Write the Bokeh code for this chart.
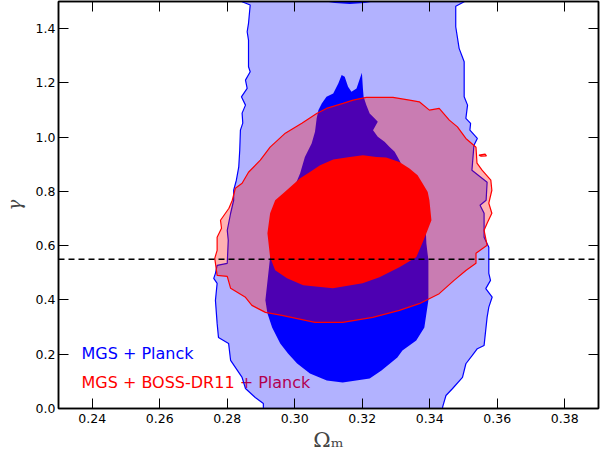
from bokeh.plotting import figure
from bokeh.models import Range1d, FixedTicker, LinearAxis, Span, Label
from bokeh.embed import file_html
from bokeh.resources import INLINE

# ---- data ----
x_ticks = [0.24, 0.26, 0.28, 0.30, 0.32, 0.34, 0.36, 0.38]
x_tick_labels = ["0.24", "0.26", "0.28", "0.30", "0.32", "0.34", "0.36", "0.38"]
y_ticks = [0.0, 0.2, 0.4, 0.6, 0.8, 1.0, 1.2, 1.4]
y_tick_labels = ["0.0", "0.2", "0.4", "0.6", "0.8", "1.0", "1.2", "1.4"]

gamma_ref = 0.55

# MGS + Planck, 2-sigma contour (outer, light blue)
mgs_2s_x = [0.2844, 0.2844, 0.2868, 0.2863, 0.2859, 0.2863, 0.2863, 0.2868, 0.2854, 0.2859,
            0.2842, 0.2854, 0.2844, 0.2846, 0.2839, 0.2837, 0.2834, 0.2827, 0.2819, 0.2819,
            0.2810, 0.2800, 0.2803, 0.2800, 0.2770, 0.2765, 0.2760, 0.2770, 0.2765, 0.2770,
            0.2774, 0.2804, 0.2810, 0.2844, 0.2854, 0.2883, 0.2907, 0.2907,
            0.3438, 0.3438, 0.3448, 0.3467, 0.3497, 0.3507, 0.3526, 0.3541, 0.3561, 0.3570,
            0.3575, 0.3585, 0.3566, 0.3580, 0.3575, 0.3575, 0.3561, 0.3561, 0.3549, 0.3567,
            0.3570, 0.3525, 0.3531, 0.3541, 0.3519, 0.3521, 0.3507, 0.3512, 0.3502, 0.3502,
            0.3487, 0.3477, 0.3477, 0.3502, 0.3502]
mgs_2s_y = [1.5200, 1.4993, 1.4871, 1.4196, 1.3886, 1.3579, 1.2594, 1.2410, 1.2103, 1.1797,
            1.1487, 1.1181, 1.0886, 1.0517, 1.0258, 0.9520, 0.8893, 0.8413, 0.8044, 0.7675,
            0.7196, 0.6568, 0.6199, 0.5351, 0.5277, 0.4982, 0.4797, 0.4613, 0.3985, 0.3137,
            0.2620, 0.2399, 0.1771, 0.1144, 0.0738, 0.0406, 0.0185, -0.0500,
            -0.0500, 0.0048, 0.0480, 0.0727, 0.1144, 0.1649, 0.1956, 0.2203, 0.2325, 0.3369,
            0.3738, 0.4107, 0.4417, 0.4723, 0.4982, 0.5941, 0.6310, 0.7196, 0.7491, 0.7675,
            0.8339, 0.8782, 0.9705, 0.9952, 1.0258, 1.0506, 1.0690, 1.1181, 1.1487, 1.2779,
            1.3273, 1.4070, 1.4823, 1.4993, 1.5200]

# MGS + Planck, 1-sigma contour (dark blue)
mgs_1s_x = [0.3094, 0.3114, 0.3129, 0.3139, 0.3148, 0.3158, 0.3168, 0.3183, 0.3193, 0.3199,
            0.3202, 0.3204, 0.3212, 0.3222, 0.3237, 0.3246, 0.3232, 0.3246, 0.3266, 0.3281,
            0.3296, 0.3310, 0.3340, 0.3369, 0.3387, 0.3390, 0.3396, 0.3396, 0.3384, 0.3360,
            0.3319, 0.3304, 0.3257, 0.3222, 0.3142, 0.3095, 0.3045, 0.3007, 0.2980, 0.2957,
            0.2933, 0.2919, 0.2913, 0.2927, 0.2936, 0.2951, 0.2972, 0.2995, 0.3016, 0.3030,
            0.3040, 0.3050, 0.3060, 0.3065, 0.3070, 0.3080]
mgs_1s_y = [1.1487, 1.1613, 1.1982, 1.2288, 1.2225, 1.1856, 1.1672, 1.1797, 1.2166, 1.2373,
            1.1797, 1.1487, 1.1181, 1.0875, 1.0690, 1.0565, 1.0258, 1.0011, 0.9827, 0.9642,
            0.9458, 0.9151, 0.8413, 0.7675, 0.6937, 0.6089, 0.5461, 0.3985, 0.2989, 0.2509,
            0.2140, 0.1882, 0.1402, 0.1107, 0.0959, 0.1033, 0.1292, 0.1661, 0.2030, 0.2399,
            0.2989, 0.3506, 0.3985, 0.5572, 0.6199, 0.6568, 0.7306, 0.8044, 0.8672, 0.9273,
            0.9520, 0.9768, 1.0196, 1.0701, 1.0996, 1.1244]

# MGS + Planck, 1-sigma piece entering at the top edge
mgs_1s_top_x = [0.3083, 0.3083, 0.3119, 0.3163, 0.3207, 0.3243, 0.3243]
mgs_1s_top_y = [1.5200, 1.5015, 1.4945, 1.4908, 1.4945, 1.5015, 1.5200]

# MGS + BOSS-DR11 + Planck, 2-sigma contour (light red)
boss_2s_x = [0.2770, 0.2783, 0.2780, 0.2805, 0.2815, 0.2824, 0.2844, 0.2863, 0.2898, 0.2927,
             0.2972, 0.3021, 0.3065, 0.3094, 0.3143, 0.3173, 0.3212, 0.3291, 0.3340, 0.3369,
             0.3399, 0.3428, 0.3458, 0.3482, 0.3507, 0.3537, 0.3540, 0.3555, 0.3581, 0.3584,
             0.3575, 0.3584, 0.3570, 0.3561, 0.3570, 0.3537, 0.3537, 0.3508, 0.3472, 0.3428,
             0.3369, 0.3310, 0.3231, 0.3142, 0.3060, 0.2962, 0.2913, 0.2873, 0.2854, 0.2810,
             0.2800, 0.2770, 0.2763, 0.2770]
boss_2s_y = [0.6310, 0.6642, 0.6937, 0.7380, 0.7675, 0.8118, 0.8303, 0.8708, 0.9151, 0.9631,
             1.0148, 1.0517, 1.0875, 1.1059, 1.1244, 1.1365, 1.1465, 1.1465, 1.1365, 1.1303,
             1.0996, 1.1059, 1.0627, 1.0380, 0.9952, 0.9631, 0.9041, 0.8782, 0.8413, 0.8044,
             0.7565, 0.7196, 0.6827, 0.6568, 0.6015, 0.5720, 0.5351, 0.5092, 0.4723, 0.4232,
             0.3863, 0.3616, 0.3358, 0.3173, 0.3173, 0.3432, 0.3542, 0.3801, 0.4096, 0.4428,
             0.4871, 0.4908, 0.5535, 0.5830]

# small isolated 2-sigma island
boss_2s_island_x = [0.3546, 0.3564, 0.3568, 0.3552]
boss_2s_island_y = [0.9336, 0.9373, 0.9310, 0.9300]

# MGS + BOSS-DR11 + Planck, 1-sigma contour (solid red)
boss_1s_x = [0.3016, 0.3045, 0.3075, 0.3114, 0.3163, 0.3202, 0.3242, 0.3271, 0.3310, 0.3340,
             0.3364, 0.3379, 0.3394, 0.3399, 0.3405, 0.3390, 0.3378, 0.3360, 0.3310, 0.3251,
             0.3201, 0.3113, 0.3025, 0.2977, 0.2942, 0.2927, 0.2919, 0.2927, 0.2942, 0.2966]
boss_1s_y = [0.8487, 0.8720, 0.8967, 0.9177, 0.9273, 0.9336, 0.9273, 0.9251, 0.9089, 0.8845,
             0.8598, 0.8292, 0.7982, 0.7675, 0.6937, 0.6458, 0.6089, 0.5572, 0.5203, 0.4834,
             0.4613, 0.4428, 0.4539, 0.4797, 0.5092, 0.5572, 0.6458, 0.7196, 0.7675, 0.7934]

series_names = ["MGS + Planck", "MGS + BOSS-DR11 + Planck"]

# ---- figure ----
p = figure(width=601, height=454,
           x_range=Range1d(0.23, 0.39), y_range=Range1d(0.0, 1.5),
           output_backend="svg", toolbar_location=None,
           min_border_left=57, min_border_right=3, min_border_top=1, min_border_bottom=46)
p.background_fill_color = "white"
p.border_fill_color = "white"
p.grid.visible = False
p.outline_line_color = "black"
p.outline_line_width = 1.5

TICK_FONT = "DejaVu Sans"

def style_axis(ax, ticks, labels, show_labels=True):
    ax.ticker = FixedTicker(ticks=ticks)
    ax.major_tick_in = 10
    ax.major_tick_out = 0
    ax.minor_tick_in = 0
    ax.minor_tick_out = 0
    ax.major_tick_line_color = "black"
    ax.major_tick_line_width = 1
    ax.axis_line_color = "black"
    ax.axis_line_width = 1.5
    ax.major_label_text_font = TICK_FONT
    ax.major_label_text_color = "black"
    if show_labels:
        ax.major_label_overrides = {t: l for t, l in zip(ticks, labels)}
        ax.major_label_text_font_size = "12.5px"
    else:
        ax.major_label_overrides = {t: "" for t in ticks}
        ax.major_label_text_font_size = "1px"
        ax.major_label_standoff = 0

style_axis(p.xaxis[0], x_ticks, x_tick_labels)
p.xaxis[0].major_label_standoff = 5
p.xaxis[0].axis_label = "Ωₘ"
p.xaxis[0].axis_label_text_font = "DejaVu Serif"
p.xaxis[0].axis_label_text_font_style = "normal"
p.xaxis[0].axis_label_text_font_size = "21px"
p.xaxis[0].axis_label_standoff = 2

style_axis(p.yaxis[0], y_ticks, y_tick_labels)
p.yaxis[0].major_label_standoff = 3
p.yaxis[0].axis_label = "γ"
p.yaxis[0].axis_label_text_font = "DejaVu Serif"
p.yaxis[0].axis_label_text_font_style = "italic"
p.yaxis[0].axis_label_text_font_size = "18px"
p.yaxis[0].axis_label_standoff = 8

top_ax = LinearAxis()
style_axis(top_ax, x_ticks, x_tick_labels, show_labels=False)
p.add_layout(top_ax, "above")
right_ax = LinearAxis()
style_axis(right_ax, y_ticks, y_tick_labels, show_labels=False)
p.add_layout(right_ax, "right")

# legend texts (drawn underneath the contours, as in the reference)
p.add_layout(Label(x=0.2368, y=0.2027, text=series_names[0], text_color="#0000ff",
                   text_font=TICK_FONT, text_font_size="16px", text_baseline="middle",
                   level="underlay"))
p.add_layout(Label(x=0.2368, y=0.0958, text=series_names[1], text_color="#ff0000",
                   text_font=TICK_FONT, text_font_size="16px", text_baseline="middle",
                   level="underlay"))

# contours
p.patch(mgs_2s_x, mgs_2s_y, fill_color="blue", fill_alpha=0.3,
        line_color="blue", line_width=1.2)
p.patch(mgs_1s_x, mgs_1s_y, fill_color="blue", fill_alpha=1.0, line_color=None)
p.patch(mgs_1s_top_x, mgs_1s_top_y, fill_color="blue", fill_alpha=1.0, line_color=None)
p.patch(boss_2s_x, boss_2s_y, fill_color="red", fill_alpha=0.3,
        line_color="red", line_width=1.2)
p.patch(boss_2s_island_x, boss_2s_island_y, fill_color="red", fill_alpha=0.3,
        line_color="red", line_width=1.2)
p.patch(boss_1s_x, boss_1s_y, fill_color="red", fill_alpha=1.0, line_color=None)

# reference line
p.add_layout(Span(location=gamma_ref, dimension="width", line_color="black",
                  line_width=1.5, line_dash="6 4"))

open("out.html", "w").write(file_html(p, INLINE))
